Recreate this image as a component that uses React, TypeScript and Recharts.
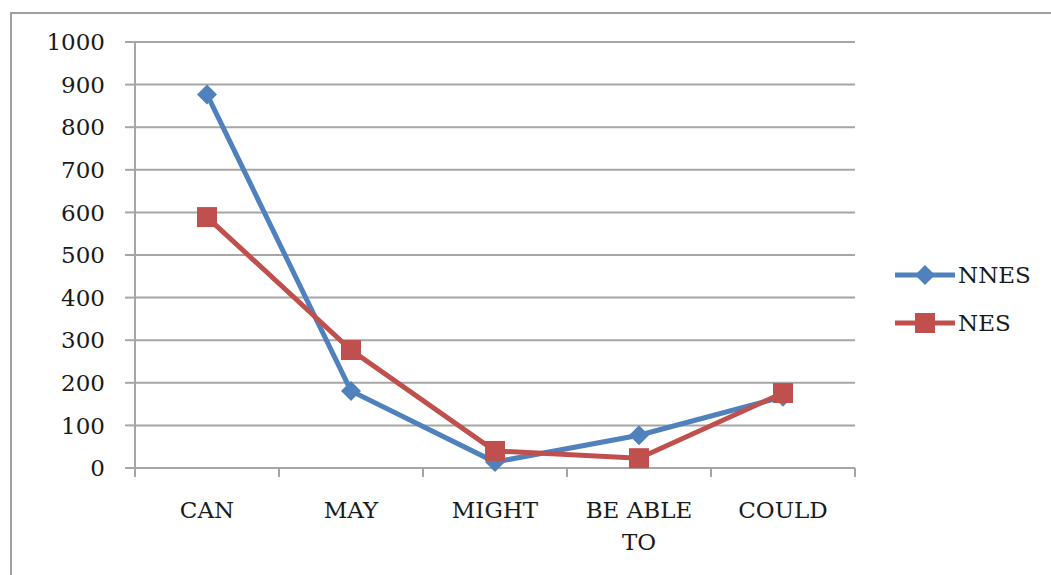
import { LineChart, Line, XAxis, YAxis, CartesianGrid } from "recharts";

const categories = ["CAN", "MAY", "MIGHT", "BE ABLE TO", "COULD"];
const nnesValues = [877, 181, 14, 77, 167];
const nesValues = [589, 277, 40, 23, 176];
const yTicks = [0, 100, 200, 300, 400, 500, 600, 700, 800, 900, 1000];

const BLUE = "#4F81BD";
const RED = "#C0504D";
const GRID = "#a6a6a6";
const INK = "#1a1a1a";
const FONT = "'DejaVu Serif', serif";

const data = categories.map((name, i) => ({
	name,
	NNES: nnesValues[i],
	NES: nesValues[i],
}));

const HALF_STEP = 72;

// greedy word wrap, about 8 characters a line
function wrapLabel(label: string, maxChars = 8): string[] {
	const lines: string[] = [];
	let cur = "";
	for (const word of label.split(" ")) {
		const next = cur ? cur + " " + word : word;
		if (next.length > maxChars && cur) {
			lines.push(cur);
			cur = word;
		} else {
			cur = next;
		}
	}
	if (cur) lines.push(cur);
	return lines;
}

function Diamond({ cx, cy, fill }: any) {
	if (cx == null || cy == null) return null;
	const r = 10;
	return (
		<path
			d={`M${cx},${cy - r} L${cx + r},${cy} L${cx},${cy + r} L${cx - r},${cy} Z`}
			fill={fill}
		/>
	);
}

function Square({ cx, cy, fill }: any) {
	if (cx == null || cy == null) return null;
	const r = 10;
	return <rect x={cx - r} y={cy - r} width={r * 2} height={r * 2} fill={fill} />;
}

// label plus the small tick marks that sit between categories
function CategoryTick(props: any) {
	const { x, y, payload, index } = props;
	const top = y - 8;
	const lines = wrapLabel(String(payload.value));
	return (
		<g>
			<line x1={x - HALF_STEP} y1={top} x2={x - HALF_STEP} y2={top + 9} stroke={GRID} strokeWidth={2} />
			{index === categories.length - 1 && (
				<line x1={x + HALF_STEP} y1={top} x2={x + HALF_STEP} y2={top + 9} stroke={GRID} strokeWidth={2} />
			)}
			<text x={x} y={top + 50} textAnchor="middle" fontSize={23} fontFamily={FONT} fill={INK}>
				{lines.map((ln, i) => (
					<tspan key={i} x={x} dy={i === 0 ? 0 : 32}>
						{ln}
					</tspan>
				))}
			</text>
		</g>
	);
}

function LegendBox() {
	const items = [
		{ name: "NNES", color: BLUE, shape: "diamond" },
		{ name: "NES", color: RED, shape: "square" },
	];
	return (
		<svg width={150} height={90} style={{ position: "absolute", left: 892, top: 258 }}>
			{items.map((it, i) => {
				const cy = 17 + i * 48;
				return (
					<g key={it.name}>
						<line x1={3} y1={cy} x2={63} y2={cy} stroke={it.color} strokeWidth={5} />
						{it.shape === "diamond" ? (
							<Diamond cx={33} cy={cy} fill={it.color} />
						) : (
							<Square cx={33} cy={cy} fill={it.color} />
						)}
						<text x={66} y={cy + 8} fontSize={23} fontFamily={FONT} fill={INK}>
							{it.name}
						</text>
					</g>
				);
			})}
		</svg>
	);
}

export default function App() {
	return (
		<div style={{ position: "absolute", left: 0, top: 0, width: 1051, height: 575, background: "#fff", overflow: "hidden" }}>
			<div
				style={{
					position: "absolute",
					left: 10,
					top: 12,
					width: 1100,
					height: 600,
					borderTop: "2px solid #a0a0a0",
					borderLeft: "2px solid #a0a0a0",
				}}
			/>
			<LineChart
				width={1051}
				height={575}
				data={data}
				margin={{ top: 42, right: 196, bottom: 0, left: 0 }}
				style={{ position: "absolute", left: 0, top: 0 }}
			>
				<CartesianGrid vertical={false} stroke={GRID} strokeWidth={2} />
				<XAxis
					dataKey="name"
					padding={{ left: HALF_STEP, right: HALF_STEP }}
					tickLine={false}
					axisLine={{ stroke: GRID, strokeWidth: 2 }}
					tick={<CategoryTick />}
					interval={0}
					height={107}
				/>
				<YAxis
					domain={[0, 1000]}
					ticks={yTicks}
					interval={0}
					width={135}
					tickSize={10}
					tickMargin={20}
					tickLine={{ stroke: GRID, strokeWidth: 2 }}
					axisLine={{ stroke: GRID, strokeWidth: 2 }}
					tick={{ fontSize: 23, fontFamily: FONT, fill: INK }}
				/>
				<Line
					dataKey="NNES"
					stroke={BLUE}
					strokeWidth={5}
					dot={<Diamond fill={BLUE} />}
					activeDot={false}
					isAnimationActive={false}
				/>
				<Line
					dataKey="NES"
					stroke={RED}
					strokeWidth={5}
					dot={<Square fill={RED} />}
					activeDot={false}
					isAnimationActive={false}
				/>
			</LineChart>
			<LegendBox />
		</div>
	);
}
